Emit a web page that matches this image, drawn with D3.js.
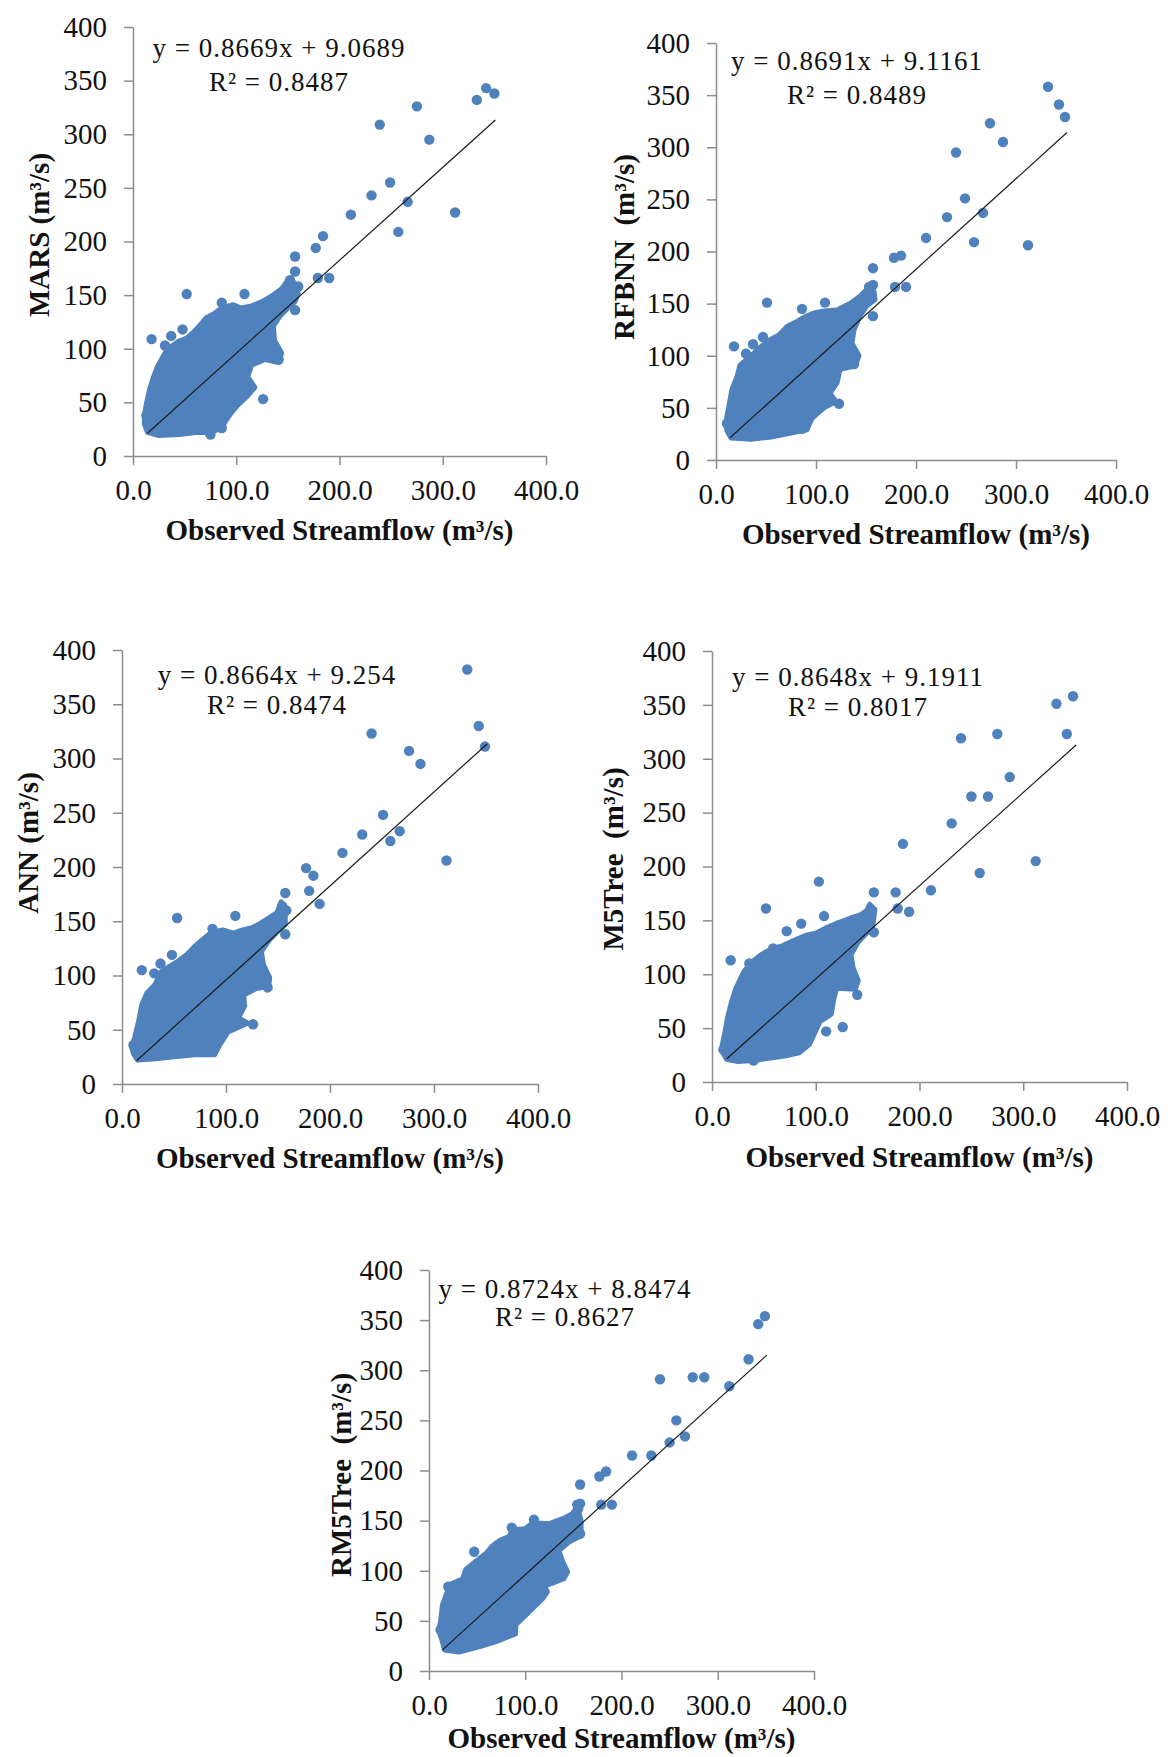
<!DOCTYPE html>
<html>
<head>
<meta charset="utf-8">
<script src="https://cdn.jsdelivr.net/npm/d3@7"></script>
<style>
  body { margin: 0; background: #fff; }
  text { font-family: "Liberation Serif", "Times New Roman", serif; }
</style>
</head>
<body>
<div id="chart"></div>
<script>
// models and regression results
var models = ["MARS", "RFBNN", "ANN", "M5Tree", "RM5Tree"];
var yTitles = ["MARS (m\u00b3/s)", "RFBNN  (m\u00b3/s)", "ANN (m\u00b3/s)", "M5Tree  (m\u00b3/s)", "RM5Tree  (m\u00b3/s)"];
var slopes = [0.8669, 0.8691, 0.8664, 0.8648, 0.8724];
var intercepts = [9.0689, 9.1161, 9.254, 9.1911, 8.8474];
var r2 = [0.8487, 0.8489, 0.8474, 0.8017, 0.8627];
var obsRange = [14, 351];

var xTicks = [0, 100, 200, 300, 400];
var yTicks = [0, 50, 100, 150, 200, 250, 300, 350, 400];

// scattered points (observed, predicted)
var marsPoints = [[333,332],[342,343],[350,338],[275,326],[239,309],[287,295],[249,255],[231,243],[266,237],[312,227],[211,225],[257,209],[184,205],[177,194],[157,186],[157,172],[179,166],[190,166],[152,164],[160,158],[157,136],[52,151],[108,151],[86,143],[18,109],[37,112],[31,103],[48,118],[75,20],[86,26],[141,90],[126,53],[13,38]];
var rfbnnPoints = [[332,358],[343,341],[349,329],[274,323],[287,305],[240,295],[249,251],[231,233],[267,237],[210,213],[258,209],[312,206],[178,194],[185,196],[157,184],[179,166],[190,166],[153,166],[157,168],[157,138],[51,151],[109,151],[86,145],[18,109],[37,111],[30,102],[47,118],[123,54],[138,92],[11,35],[86,30]];
var annPoints = [[332,382],[343,330],[349,311],[240,323],[276,307],[287,295],[251,248],[231,230],[267,233],[258,224],[212,213],[312,206],[177,199],[184,192],[180,178],[190,166],[157,176],[154,164],[158,160],[157,138],[53,153],[109,155],[87,143],[19,105],[37,111],[31,102],[48,119],[126,55],[140,89],[11,36],[85,33]];
var m5Points = [[348,358],[332,351],[342,323],[240,319],[275,323],[287,283],[250,265],[266,265],[231,240],[312,205],[258,194],[184,221],[211,178],[177,176],[156,176],[179,161],[190,158],[103,186],[52,161],[108,154],[86,147],[72,140],[59,124],[18,113],[36,110],[156,139],[110,47],[126,51],[140,81],[11,30],[40,20]];
var rm5Points = [[349,354],[342,346],[332,311],[240,291],[274,293],[286,293],[312,284],[257,250],[250,228],[266,234],[231,215],[211,215],[177,194],[184,199],[157,186],[179,166],[190,166],[155,162],[157,167],[157,137],[109,151],[86,143],[47,119],[20,84],[12,41],[154,166]];

// outline of the dense cloud of overlapping points
var marsCloud = [[11,37],[13,49],[16,62],[20,74],[24,84],[31,96],[34,100],[44,107],[52,110],[58,115],[65,122],[71,129],[79,133],[86,138],[97,141],[105,138],[115,140],[125,144],[134,149],[144,156],[150,164],[156,162],[160,152],[157,144],[150,138],[142,130],[136,121],[137,108],[144,96],[141,87],[128,90],[115,85],[111,74],[118,64],[110,55],[101,47],[95,40],[90,33],[86,26],[75,22],[60,22],[45,20],[25,19],[14,22],[11,30]];
var rfbnnCloud = [[10,37],[13,52],[16,68],[21,80],[24,91],[34,99],[44,108],[53,115],[63,120],[71,128],[81,133],[90,138],[98,141],[108,143],[121,144],[134,150],[144,157],[152,165],[158,162],[159,154],[151,148],[144,138],[138,125],[136,112],[143,100],[139,90],[124,87],[121,74],[114,64],[120,56],[108,50],[96,40],[91,29],[70,25],[55,22],[35,20],[15,21],[11,28]];
var annCloud = [[9,35],[12,42],[16,58],[19,73],[24,84],[32,92],[38,104],[52,112],[62,119],[70,127],[80,135],[86,140],[97,142],[107,139],[116,142],[125,144],[133,148],[141,153],[149,158],[153,168],[157,160],[157,147],[150,141],[142,133],[134,122],[136,110],[142,98],[141,90],[129,88],[117,82],[118,72],[112,61],[121,56],[102,48],[94,36],[89,27],[70,27],[50,25],[30,23],[15,22],[11,28]];
var m5Cloud = [[9,30],[12,44],[15,60],[19,75],[23,87],[31,103],[38,111],[47,118],[58,124],[67,126],[78,131],[90,136],[100,138],[110,143],[122,148],[133,152],[143,155],[149,159],[152,165],[157,160],[155,145],[149,138],[141,130],[134,118],[136,106],[141,94],[138,86],[120,87],[117,75],[115,63],[104,56],[94,35],[84,27],[70,24],[55,22],[40,20],[25,19],[14,21]];
var rm5Cloud = [[10,41],[12,49],[14,66],[19,79],[21,86],[35,92],[38,101],[48,109],[60,118],[66,125],[73,130],[83,134],[87,141],[100,142],[108,148],[125,147],[139,152],[149,157],[154,164],[158,150],[158,135],[146,129],[135,120],[139,109],[144,99],[140,92],[132,89],[120,85],[123,79],[118,72],[104,59],[90,46],[90,37],[69,29],[52,24],[31,19],[16,21],[14,29]];

var pointSets = [marsPoints, rfbnnPoints, annPoints, m5Points, rm5Points];
var cloudSets = [marsCloud, rfbnnCloud, annCloud, m5Cloud, rm5Cloud];

// where each panel sits on the page
var panels = [
    {left: 133, right: 546, top: 27, bottom: 456, eqX: 279, eqY1: 57, eqY2: 91, ylX: 39, ylY: 235, xlY: 540},
    {left: 716, right: 1116, top: 43, bottom: 460, eqX: 857, eqY1: 70, eqY2: 104, ylX: 624, ylY: 247, xlY: 544},
    {left: 122, right: 538, top: 650, bottom: 1084, eqX: 277, eqY1: 684, eqY2: 714, ylX: 28, ylY: 843, xlY: 1168},
    {left: 712, right: 1127, top: 651, bottom: 1082, eqX: 858, eqY1: 686, eqY2: 716, ylX: 613, ylY: 859, xlY: 1167},
    {left: 429, right: 814, top: 1270, bottom: 1671, eqX: 565, eqY1: 1298, eqY2: 1326, ylX: 341, ylY: 1475, xlY: 1748}
];

var blue = "#4f81bd";
var axisColor = "#8c8c8c";

var svg = d3.select("#chart")
    .append("svg")
    .attr("width", 1171)
    .attr("height", 1757);

function drawPanel(i) {
    var p = panels[i];
    var x = d3.scaleLinear().domain([0, 400]).range([p.left, p.right]);
    var y = d3.scaleLinear().domain([0, 400]).range([p.bottom, p.top]);
    var g = svg.append("g").attr("class", "panel");

    // axes
    var xAxis = g.append("g")
        .attr("transform", "translate(0," + p.bottom + ")")
        .call(d3.axisBottom(x).tickValues(xTicks).tickFormat(d3.format(".1f"))
            .tickSize(9).tickSizeOuter(0).tickPadding(14));
    var yAxis = g.append("g")
        .attr("transform", "translate(" + p.left + ",0)")
        .call(d3.axisLeft(y).tickValues(yTicks).tickSize(9).tickSizeOuter(0).tickPadding(17));

    [xAxis, yAxis].forEach(function (a) {
        a.selectAll("path, line").attr("stroke", axisColor).attr("stroke-width", 1.5);
        a.selectAll("text")
            .attr("fill", "#111")
            .style("font-family", '"Liberation Serif", serif')
            .style("font-size", "29px");
    });

    // dense cloud (thick round stroke gives the dotted rim some body)
    g.append("path")
        .datum(cloudSets[i])
        .attr("d", d3.line().x(function (d) { return x(d[0]); }).y(function (d) { return y(d[1]); }).curve(d3.curveLinearClosed))
        .attr("fill", blue)
        .attr("stroke", blue)
        .attr("stroke-width", 5)
        .attr("stroke-linejoin", "round");

    // single points
    g.selectAll("circle.pt")
        .data(pointSets[i])
        .enter()
        .append("circle")
        .attr("class", "pt")
        .attr("cx", function (d) { return x(d[0]); })
        .attr("cy", function (d) { return y(d[1]); })
        .attr("r", 5.2)
        .attr("fill", blue);

    // trend line
    g.append("line")
        .attr("x1", x(obsRange[0]))
        .attr("y1", y(slopes[i] * obsRange[0] + intercepts[i]))
        .attr("x2", x(obsRange[1]))
        .attr("y2", y(slopes[i] * obsRange[1] + intercepts[i]))
        .attr("stroke", "#1a1a1a")
        .attr("stroke-width", 1.2);

    // equation
    g.append("text")
        .attr("x", p.eqX)
        .attr("y", p.eqY1)
        .attr("text-anchor", "middle")
        .style("font-size", "27px")
        .style("letter-spacing", "1px")
        .attr("fill", "#111")
        .text("y = " + slopes[i] + "x + " + intercepts[i]);
    g.append("text")
        .attr("x", p.eqX)
        .attr("y", p.eqY2)
        .attr("text-anchor", "middle")
        .style("font-size", "27px")
        .style("letter-spacing", "1px")
        .attr("fill", "#111")
        .text("R\u00b2 = " + r2[i]);

    // axis titles
    g.append("text")
        .attr("transform", "translate(" + p.ylX + "," + p.ylY + ") rotate(-90)")
        .attr("text-anchor", "middle")
        .attr("dy", "0.35em")
        .style("font-size", "29px")
        .style("font-weight", "bold")
        .style("white-space", "pre")
        .attr("fill", "#111")
        .text(yTitles[i]);
    g.append("text")
        .attr("x", (p.left + p.right) / 2)
        .attr("y", p.xlY)
        .attr("text-anchor", "middle")
        .style("font-size", "29px")
        .style("font-weight", "bold")
        .attr("fill", "#111")
        .text("Observed Streamflow (m\u00b3/s)");
}

for (var i = 0; i < models.length; i++) {
    drawPanel(i);
}
</script>
</body>
</html>
